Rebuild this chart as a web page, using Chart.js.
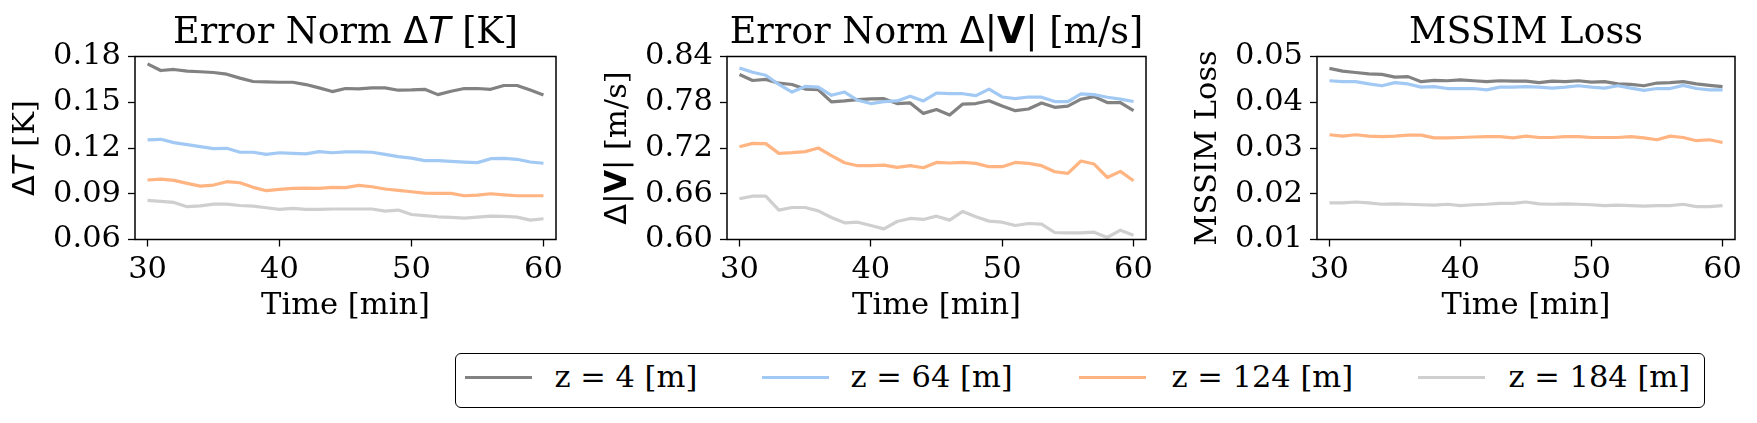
<!DOCTYPE html>
<html><head><meta charset="utf-8">
<script src="https://cdn.jsdelivr.net/npm/chart.js@4.4.1/dist/chart.umd.min.js"></script>
<style>
html,body{margin:0;padding:0;background:#fff;width:1757px;height:423px;overflow:hidden;}
canvas{position:absolute;top:0;}
#legend{position:absolute;left:455px;top:353px;width:1250px;height:55px;border:1.6px solid #000;border-radius:6px;box-sizing:border-box;font-family:'DejaVu Serif';font-size:30.5px;color:#000;background:#fff;}
.sw{position:absolute;height:3.4px;width:67px;top:22px;}
.lt{position:absolute;line-height:1;white-space:nowrap;top:7.5px;}
</style></head>
<body>
<canvas id="c1" width="578" height="330" style="left:0px"></canvas>
<canvas id="c2" width="582" height="330" style="left:586px"></canvas>
<canvas id="c3" width="580" height="330" style="left:1177px"></canvas>
<div id="legend"></div>
<script>
// ---------- DATA ----------
const times = [30,31,32,33,34,35,36,37,38,39,40,41,42,43,44,45,46,47,48,49,50,51,52,53,54,55,56,57,58,59,60];
const legendLabels = ['z = 4 [m]', 'z = 64 [m]', 'z = 124 [m]', 'z = 184 [m]'];
const xTicks = [30, 40, 50, 60];

const dT_z4   = [0.1752,0.1708,0.1715,0.1704,0.1700,0.1695,0.1684,0.1658,0.1636,0.1634,0.1631,0.1631,0.1616,0.1594,0.1570,0.1590,0.1588,0.1594,0.1594,0.1579,0.1581,0.1585,0.1550,0.1572,0.1590,0.1590,0.1585,0.1610,0.1610,0.1580,0.1548];
const dT_z64  = [0.1253,0.1257,0.1235,0.1222,0.1209,0.1196,0.1198,0.1172,0.1172,0.1158,0.1169,0.1165,0.1161,0.1176,0.1169,0.1174,0.1174,0.1172,0.1158,0.1143,0.1134,0.1117,0.1117,0.1112,0.1108,0.1104,0.1130,0.1132,0.1126,0.1108,0.1100];
const dT_z124 = [0.0990,0.0996,0.0988,0.0968,0.0950,0.0957,0.0979,0.0972,0.0942,0.0920,0.0929,0.0935,0.0937,0.0935,0.0942,0.0940,0.0955,0.0946,0.0931,0.0922,0.0913,0.0904,0.0902,0.0902,0.0887,0.0891,0.0900,0.0893,0.0887,0.0887,0.0887];
const dT_z184 = [0.0856,0.0850,0.0843,0.0815,0.0821,0.0832,0.0832,0.0823,0.0819,0.0808,0.0797,0.0804,0.0797,0.0797,0.0800,0.0800,0.0800,0.0800,0.0786,0.0793,0.0764,0.0756,0.0749,0.0745,0.0740,0.0747,0.0753,0.0751,0.0747,0.0727,0.0736];
const dT_yTicks = [0.06, 0.09, 0.12, 0.15, 0.18];

const dV_z4   = [0.8163,0.8085,0.8100,0.8050,0.8033,0.7973,0.7964,0.7804,0.7817,0.7835,0.7845,0.7847,0.7783,0.7791,0.7654,0.7705,0.7632,0.7776,0.7783,0.7820,0.7750,0.7690,0.7711,0.7790,0.7734,0.7750,0.7840,0.7874,0.7796,0.7796,0.7690];
const dV_z64  = [0.8249,0.8193,0.8154,0.8033,0.7934,0.8007,0.7999,0.7891,0.7934,0.7826,0.7783,0.7809,0.7817,0.7878,0.7817,0.7921,0.7912,0.7912,0.7886,0.7973,0.7869,0.7847,0.7869,0.7866,0.7809,0.7809,0.7910,0.7900,0.7866,0.7840,0.7810];
const dV_z124 = [0.7217,0.7261,0.7257,0.7130,0.7139,0.7152,0.7200,0.7099,0.7007,0.6968,0.6968,0.6976,0.6946,0.6968,0.6941,0.7011,0.7003,0.7011,0.6998,0.6955,0.6955,0.7011,0.6998,0.6968,0.6889,0.6867,0.7029,0.6990,0.6814,0.6893,0.6770];
const dV_z184 = [0.6534,0.6569,0.6569,0.6385,0.6420,0.6420,0.6376,0.6289,0.6219,0.6227,0.6184,0.6140,0.6236,0.6276,0.6263,0.6306,0.6254,0.6368,0.6298,0.6241,0.6227,0.6184,0.6210,0.6201,0.6092,0.6087,0.6087,0.6096,0.6026,0.6122,0.6057];
const dV_yTicks = [0.60, 0.66, 0.72, 0.78, 0.84];

const ms_z4   = [0.0474,0.0468,0.0465,0.0462,0.0461,0.0455,0.0456,0.0445,0.0448,0.0447,0.0449,0.0447,0.0445,0.0447,0.0446,0.0446,0.0443,0.0446,0.0445,0.0447,0.0444,0.0445,0.0440,0.0439,0.0436,0.0442,0.0443,0.0445,0.0440,0.0437,0.0434];
const ms_z64  = [0.0447,0.0445,0.0445,0.0440,0.0436,0.0443,0.0440,0.0433,0.0434,0.0430,0.0430,0.0430,0.0427,0.0433,0.0433,0.0434,0.0433,0.0431,0.0433,0.0436,0.0433,0.0431,0.0436,0.0431,0.0426,0.0430,0.0430,0.0437,0.0430,0.0427,0.0427];
const ms_z124 = [0.0329,0.0326,0.0329,0.0326,0.0325,0.0326,0.0328,0.0328,0.0322,0.0322,0.0323,0.0324,0.0325,0.0325,0.0322,0.0326,0.0323,0.0323,0.0325,0.0325,0.0323,0.0323,0.0323,0.0325,0.0322,0.0318,0.0326,0.0323,0.0316,0.0318,0.0312];
const ms_z184 = [0.0180,0.0180,0.0182,0.0180,0.0177,0.0178,0.0177,0.0176,0.0175,0.0177,0.0174,0.0176,0.0177,0.0179,0.0179,0.0182,0.0178,0.0177,0.0178,0.0177,0.0176,0.0174,0.0175,0.0174,0.0173,0.0174,0.0174,0.0177,0.0172,0.0172,0.0174];
const ms_yTicks = [0.01, 0.02, 0.03, 0.04, 0.05];

// ---------- STYLE ----------
const colors = ['#828282', '#a1c9f4', '#ffb482', '#cfcfcf'];
const SERIF = "'DejaVu Serif'";
const SANS = "'DejaVu Sans'";
const TFS = 36.5, LFS = 30.5, TICKFS = 30.5;
const fSerifT = TFS + 'px ' + SERIF, fSansT = TFS + 'px ' + SANS;
const fSerifL = LFS + 'px ' + SERIF, fSansL = LFS + 'px ' + SANS;
const CANVAS_H = 330, PLOT_TOP = 56.5, PLOT_BOTTOM = 239.5;

function drawRich(ctx, segs, cx, cy, vertical) {
  ctx.save();
  ctx.translate(cx, cy);
  if (vertical) ctx.rotate(-Math.PI / 2);
  ctx.textBaseline = 'alphabetic';
  ctx.textAlign = 'left';
  ctx.fillStyle = '#000';
  let total = 0;
  const w = segs.map(s => { ctx.font = s[1]; const m = ctx.measureText(s[0]).width; total += m; return m; });
  let x = -total / 2;
  segs.forEach((s, i) => { ctx.font = s[1]; ctx.fillText(s[0], x, 0); x += w[i]; });
  ctx.restore();
}

const decorPlugin = {
  id: 'panelDecor',
  afterDatasetsDraw(chart, args, opts) {
    const ctx = chart.ctx, a = chart.chartArea;
    ctx.save();
    ctx.strokeStyle = '#000';
    ctx.lineWidth = 1.5;
    ctx.strokeRect(a.left, a.top, a.right - a.left, a.bottom - a.top);
    ctx.restore();
    const cx = (a.left + a.right) / 2;
    drawRich(ctx, opts.title, cx, 42.7, false);
    drawRich(ctx, opts.xlabel, cx, 313.5, false);
    drawRich(ctx, opts.ylabel, a.left - 101, (a.top + a.bottom) / 2, true);
  }
};

function makeChart(id, series, yTicks, axisW, decor) {
  const canvas = document.getElementById(id);
  return new Chart(canvas, {
    type: 'line',
    data: {
      datasets: series.map((vals, i) => ({
        label: legendLabels[i],
        data: times.map((t, j) => ({ x: t, y: vals[j] })),
        borderColor: colors[i],
        backgroundColor: colors[i],
        borderWidth: 3.2,
        pointRadius: 0,
        fill: false,
        tension: 0,
        order: 3 - i,
        borderJoinStyle: 'round',
        borderCapStyle: 'butt'
      }))
    },
    options: {
      responsive: false,
      animation: false,
      events: [],
      layout: { padding: { top: PLOT_TOP, right: 22, bottom: 0, left: 0 } },
      plugins: { legend: { display: false }, tooltip: { enabled: false }, panelDecor: decor },
      scales: {
        x: {
          type: 'linear', min: 29.05, max: 60.95,
          afterBuildTicks: s => { s.ticks = xTicks.map(v => ({ value: v })); },
          afterFit: s => { s.height = CANVAS_H - PLOT_BOTTOM; },
          grid: { display: true, drawOnChartArea: false, drawTicks: true, tickLength: 7, tickWidth: 1.3, tickColor: '#000' },
          border: { display: false },
          ticks: { font: { family: SERIF, size: TICKFS }, color: '#000', padding: 5, maxRotation: 0, autoSkip: false, callback: v => String(v) }
        },
        y: {
          type: 'linear', min: yTicks[0], max: yTicks[yTicks.length - 1],
          afterBuildTicks: s => { s.ticks = yTicks.map(v => ({ value: v })); },
          afterFit: s => { s.width = axisW; },
          grid: { display: true, drawOnChartArea: false, drawTicks: true, tickLength: 7, tickWidth: 1.3, tickColor: '#000' },
          border: { display: false },
          ticks: { font: { family: SERIF, size: TICKFS }, color: '#000', padding: 7, autoSkip: false, callback: v => Number(v).toFixed(2) }
        }
      }
    },
    plugins: [decorPlugin]
  });
}

const xlabel = [['Time [min]', fSerifL]];

makeChart('c1', [dT_z4, dT_z64, dT_z124, dT_z184], dT_yTicks, 135, {
  title: [['Error Norm ', fSerifT], ['\u0394', fSansT], ['T', 'oblique ' + fSansT], [' [K]', fSerifT]],
  xlabel: xlabel,
  ylabel: [['\u0394', fSansL], ['T', 'oblique ' + fSansL], [' [K]', fSerifL]]
});
makeChart('c2', [dV_z4, dV_z64, dV_z124, dV_z184], dV_yTicks, 141, {
  title: [['Error Norm ', fSerifT], ['\u0394|', fSansT], ['V', 'bold ' + fSansT], ['|', fSansT], [' [m/s]', fSerifT]],
  xlabel: xlabel,
  ylabel: [['\u0394|', fSansL], ['V', 'bold ' + fSansL], ['|', fSansL], [' [m/s]', fSerifL]]
});
makeChart('c3', [ms_z4, ms_z64, ms_z124, ms_z184], ms_yTicks, 140, {
  title: [['MSSIM Loss', fSerifT]],
  xlabel: xlabel,
  ylabel: [['MSSIM Loss', fSerifL]]
});

// ---------- LEGEND ----------
const legendSwatchX = [8.5, 306, 623, 962];
const legendTextX = [98.5, 394.5, 715.5, 1052.5];
const lg = document.getElementById('legend');
legendLabels.forEach((lab, i) => {
  const sw = document.createElement('div');
  sw.className = 'sw';
  sw.style.left = legendSwatchX[i] + 'px';
  sw.style.background = colors[i];
  lg.appendChild(sw);
  const t = document.createElement('div');
  t.className = 'lt';
  t.style.left = legendTextX[i] + 'px';
  t.textContent = lab;
  lg.appendChild(t);
});
</script>
</body></html>
